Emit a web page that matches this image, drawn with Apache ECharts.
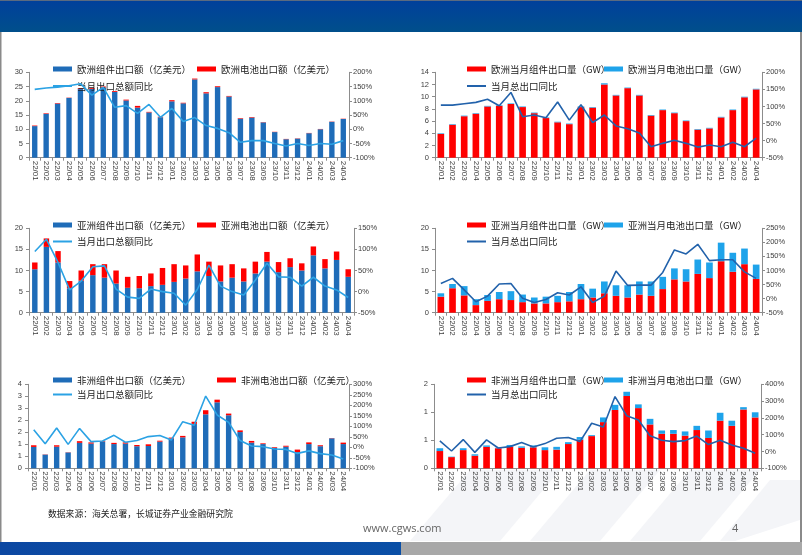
<!DOCTYPE html>
<html><head><meta charset="utf-8">
<script src="https://cdn.jsdelivr.net/npm/echarts@6/dist/echarts.min.js"></script>
<style>html,body{margin:0;padding:0;background:#fff}#c{width:802px;height:555px}</style>
</head><body><div id="c"></div>
<script>
const categories = ['22/01','22/02','22/03','22/04','22/05','22/06','22/07','22/08','22/09','22/10','22/11','22/12',
  '23/01','23/02','23/03','23/04','23/05','23/06','23/07','23/08','23/09','23/10','23/11','23/12',
  '24/01','24/02','24/03','24/04'];

// Panel 1: Europe export value (亿美元)
const euModuleValue = [11.1,15.4,19.0,21.0,24.1,24.2,24.7,23.1,20.1,17.6,15.9,14.2,19.8,19.1,27.5,22.6,24.8,21.5,13.7,14.1,12.4,9.0,6.5,6.7,8.6,10.0,12.6,13.6];
const euCellValue   = [0.2,0.2,0.2,0.1,0.3,0.3,0.3,0.3,0.3,0.6,0.2,0.2,0.4,0.2,0.3,0.4,0.3,0.2,0.2,0.2,0.1,0.1,0.1,0.1,0.1,0.1,0.1,0.1];
const euValueYoY    = [140,145,148,153,160,120,147,77,83,56,87,42,73,27,41,13,3,-12,-46,-40,-40,-50,-59,-50,-57,-50,-53,-40];

// Panel 2: Europe export volume (GW)
const euModuleGW = [3.9,5.4,6.8,7.2,8.4,8.5,8.8,8.3,7.3,6.5,5.8,5.5,8.3,8.2,12.0,10.2,11.4,10.2,6.9,7.8,7.3,6.0,4.6,4.8,6.6,7.8,9.9,11.2];
const euCellGW   = [0.1,0.1,0.1,0.1,0.1,0.1,0.1,0.1,0.1,0.1,0.1,0.1,0.1,0.1,0.2,0.1,0.1,0.1,0.1,0.1,0.1,0.1,0.1,0.1,0.1,0.1,0.1,0.1];
const euGWYoY    = [104,104,108,112,121,102,141,70,75,67,113,60,105,53,75,43,35,22,-18,-8,1,-8,-19,-13,-18,-5,-18,7];

// Panel 3: Asia export value (亿美元)
const asModuleValue = [10.3,15.6,11.9,5.8,7.6,8.9,8.3,6.9,5.9,5.8,6.3,6.6,7.3,8.1,9.8,8.7,7.4,8.3,7.4,9.3,12.1,9.6,10.8,10.0,13.6,10.5,12.5,8.5];
const asCellValue   = [1.6,2.0,2.7,1.7,2.4,2.6,3.2,3.1,2.6,2.9,3.0,4.0,4.2,3.1,4.0,3.4,3.8,3.2,3.1,2.8,2.3,2.4,2.1,1.7,2.1,2.2,2.0,1.8];
const asValueYoY    = [95,124,69,4,25,59,61,6,-13,-16,6,0,-4,-32,5,63,13,0,-8,27,67,35,34,13,34,13,4,-14];

// Panel 4: Asia export volume (GW)
const asModuleGW = [3.8,5.8,4.1,1.8,2.8,3.2,3.0,2.5,2.2,2.2,2.5,2.7,3.2,3.6,4.6,4.0,3.6,4.3,4.0,5.6,7.9,7.4,9.2,8.2,12.2,9.7,11.5,8.0];
const asCellGW   = [0.8,1.0,2.2,1.4,1.4,1.7,2.1,1.8,1.4,1.6,1.5,2.2,3.6,2.1,2.8,2.5,2.9,3.1,3.4,2.9,2.6,2.9,3.4,3.7,4.4,4.5,3.7,3.4];
const asGWYoY    = [54,72,31,-11,9,52,54,1,-14,-3,21,13,42,-14,9,98,47,48,48,93,173,159,193,135,138,138,95,72];

// Panel 5: Africa export value (亿美元)
const afModuleValue = [0.89,0.57,0.90,0.66,1.06,1.03,1.12,1.01,1.03,0.92,0.93,1.11,1.24,1.29,1.85,2.25,2.75,2.21,1.51,1.07,1.01,0.85,0.90,0.67,1.01,0.92,1.25,1.01];
const afCellValue   = [0.07,0.01,0.06,0.01,0.07,0.05,0.02,0.05,0.05,0.05,0.07,0.04,0.04,0.06,0.09,0.17,0.11,0.07,0.07,0.07,0.03,0.03,0.04,0.11,0.07,0.04,0.01,0.06];
const afValueYoY    = [84,17,92,14,90,27,30,57,24,32,51,56,35,122,105,244,154,119,32,6,3,-8,-10,-29,-17,-30,-37,-56];

// Panel 6: Africa export volume (GW)
const afModuleGW = [0.37,0.24,0.39,0.27,0.46,0.43,0.46,0.44,0.45,0.39,0.40,0.52,0.61,0.69,0.99,1.25,1.55,1.29,0.94,0.74,0.74,0.70,0.82,0.65,1.02,0.91,1.26,1.09];
const afCellGW   = [0.06,0.01,0.04,0.03,0.03,0.01,0.04,0.03,0.04,0.06,0.06,0.04,0.06,0.02,0.10,0.11,0.09,0.08,0.12,0.07,0.08,0.09,0.09,0.16,0.17,0.11,0.05,0.11];
const afGWYoY    = [63,3,71,-5,69,21,29,53,27,47,79,83,59,168,146,327,213,188,94,67,59,65,92,41,67,39,19,-11];

const BLUE_DARK = '#1f6cb8', RED = '#ff0000', BLUE_LIGHT = '#1ea3ea', LINE_LIGHT = '#2ba2e4', LINE_DARK = '#2262ab';
const roundFmt = v => String(Math.round(v + 1e-9));

const panels = [
  {grid:{left:29,top:72.3,width:320,height:85.4}, lmax:30, lint:5, rmin:-100, rmax:200, rint:50,
   names:['欧洲组件出口额（亿美元）','欧洲电池出口额（亿美元）','当月出口总额同比'],
   data:[euModuleValue, euCellValue, euValueYoY], colors:[BLUE_DARK, RED, LINE_LIGHT], bw:'47%',
   leg:{x1:53, x2:197, y1:69, y2:86}},
  {grid:{left:435,top:72.3,width:327,height:85.4}, lmax:14, lint:2, rmin:-50, rmax:200, rint:50,
   names:['欧洲当月组件出口量（GW）','欧洲当月电池出口量（GW）','当月总出口同比'],
   data:[euModuleGW, euCellGW, euGWYoY], colors:[RED, BLUE_LIGHT, LINE_DARK], bw:'57%',
   leg:{x1:467, x2:604, y1:69, y2:86}},
  {grid:{left:29,top:228.3,width:325,height:84.4}, lmax:20, lint:5, rmin:-50, rmax:150, rint:50,
   names:['亚洲组件出口额（亿美元）','亚洲电池出口额（亿美元）','当月出口总额同比 '],
   data:[asModuleValue, asCellValue, asValueYoY], colors:[BLUE_DARK, RED, LINE_LIGHT], bw:'47%',
   leg:{x1:53, x2:197, y1:225, y2:241.5}},
  {grid:{left:435,top:228.3,width:327,height:84.4}, lmax:20, lint:5, rmin:-50, rmax:250, rint:50,
   names:['亚洲当月组件出口量（GW）','亚洲当月电池出口量（GW）','当月总出口同比 '],
   data:[asModuleGW, asCellGW, asGWYoY], colors:[RED, BLUE_LIGHT, LINE_DARK], bw:'57%',
   leg:{x1:467, x2:604, y1:225, y2:241.5}},
  {grid:{left:28,top:384.3,width:321,height:84}, lmax:3.5, lint:0.5, rmin:-100, rmax:300, rint:50, lfmt:roundFmt,
   names:['非洲组件出口额（亿美元）','非洲电池出口额（亿美元）','当月出口总额同比  '],
   data:[afModuleValue, afCellValue, afValueYoY], colors:[BLUE_DARK, RED, LINE_LIGHT], bw:'47%',
   leg:{x1:53, x2:217, y1:380, y2:394.5}},
  {grid:{left:434,top:384.3,width:327,height:84}, lmax:1.8, lint:0.6, rmin:-100, rmax:400, rint:100, lfmt:roundFmt,
   names:['非洲当月组件出口量（GW）','非洲当月电池出口量（GW）','当月总出口同比  '],
   data:[afModuleGW, afCellGW, afGWYoY], colors:[RED, BLUE_LIGHT, LINE_DARK], bw:'57%',
   leg:{x1:467, x2:604, y1:380, y2:394.5}}
];

const AX = '#8c8c8c', LBL = '#404040';
const grid=[], xAxis=[], yAxis=[], series=[], legend=[];
const legText = {fontFamily:'Noto Sans CJK SC', fontSize:9.5, color:'#1a1a1a', lineHeight:12};

panels.forEach((p, i) => {
  grid.push(Object.assign({containLabel:false}, p.grid));
  xAxis.push({type:'category', gridIndex:i, data:categories,
    axisLine:{onZero:false, lineStyle:{color:AX, width:1}},
    axisTick:{show:true, length:3, lineStyle:{color:AX}},
    axisLabel:{rotate:-90, interval:0, fontSize:8, color:LBL, fontFamily:'Liberation Sans', margin:3}});
  yAxis.push({type:'value', gridIndex:i, min:0, max:p.lmax, interval:p.lint, position:'left',
    splitLine:{show:false},
    axisLine:{show:true, lineStyle:{color:AX}}, axisTick:{show:true, length:3, lineStyle:{color:AX}},
    axisLabel:{fontSize:7.5, color:LBL, fontFamily:'Liberation Sans', margin:6, showMaxLabel:true, showMinLabel:true,
      formatter:p.lfmt || (v=>String(v))}});
  yAxis.push({type:'value', gridIndex:i, min:p.rmin, max:p.rmax, interval:p.rint, position:'right',
    splitLine:{show:false},
    axisLine:{show:true, lineStyle:{color:AX}}, axisTick:{show:true, length:3, inside:false, lineStyle:{color:AX}},
    axisLabel:{fontSize:7.5, color:LBL, fontFamily:'Liberation Sans', margin:4, showMaxLabel:true, formatter:'{value}%'}});
  series.push({name:p.names[0], type:'bar', xAxisIndex:i, yAxisIndex:2*i, stack:'s'+i, data:p.data[0],
    barWidth:p.bw, itemStyle:{color:p.colors[0]}, color:p.colors[0]});
  series.push({name:p.names[1], type:'bar', xAxisIndex:i, yAxisIndex:2*i, stack:'s'+i, data:p.data[1],
    barWidth:p.bw, itemStyle:{color:p.colors[1]}, color:p.colors[1]});
  series.push({name:p.names[2], type:'line', xAxisIndex:i, yAxisIndex:2*i+1, data:p.data[2],
    symbol:'none', lineStyle:{color:p.colors[2], width:1.6}, itemStyle:{color:p.colors[2]}, color:p.colors[2], z:5});
  legend.push({data:[p.names[0]], left:p.leg.x1, top:p.leg.y1-6, padding:0, itemWidth:19, itemHeight:5, icon:'rect',
    textStyle:legText, selectedMode:false});
  legend.push({data:[p.names[1]], left:p.leg.x2, top:p.leg.y1-6, padding:0, itemWidth:19, itemHeight:5, icon:'rect',
    textStyle:legText, selectedMode:false});
  legend.push({data:[p.names[2]], left:p.leg.x1, top:p.leg.y2-6, padding:0, itemWidth:19, itemHeight:2, icon:'rect',
    textStyle:legText, selectedMode:false, formatter: n => n.trim()});
});

const graphic = [
  {type:'polygon', z:-10, shape:{points:[[470,470],[560,470],[500,541],[410,541]]}, style:{fill:'#f4f5f8'}},
  {type:'polygon', z:-10, shape:{points:[[590,470],[660,470],[600,541],[530,541]]}, style:{fill:'#f4f5f8'}},
  {type:'polygon', z:-10, shape:{points:[[690,470],[760,470],[700,541],[630,541]]}, style:{fill:'#f4f5f8'}},
  {type:'polygon', z:-10, shape:{points:[[770,480],[800,480],[800,520],[735,541],[720,541]]}, style:{fill:'#f4f5f8'}},
  {type:'rect', shape:{x:0,y:0,width:802,height:32},
   style:{fill:{type:'linear',x:0,y:0,x2:0,y2:1,colorStops:[{offset:0,color:'#003f9c'},{offset:1,color:'#004f8b'}]}}},
  {type:'rect', shape:{x:0,y:0,width:802,height:1}, style:{fill:'#5a6a80'}},
  {type:'rect', shape:{x:0,y:32,width:1.5,height:510}, style:{fill:'#8a8a8a'}},
  {type:'rect', shape:{x:800,y:32,width:2,height:510}, style:{fill:'#8a8a8a'}},
  {type:'rect', shape:{x:0,y:542,width:401,height:13},
   style:{fill:{type:'linear',x:0,y:0,x2:1,y2:0,colorStops:[{offset:0,color:'#0c48a2'},{offset:1,color:'#0a4fa6'}]}}},
  {type:'rect', shape:{x:401,y:542,width:401,height:13}, style:{fill:'#a8a8a8'}},
  {type:'text', left:48, top:509, style:{text:'数据来源：海关总署，长城证券产业金融研究院', fontFamily:'Noto Sans CJK SC', fontSize:8.8, fill:'#222'}},
  {type:'text', left:363, top:523, style:{text:'www.cgws.com', fontFamily:'Open Sans', fontSize:11, fill:'#666'}},
  {type:'text', left:732, top:523, style:{text:'4', fontFamily:'Open Sans', fontSize:11, fill:'#666'}}
];

const chart = echarts.init(document.getElementById('c'), null, {renderer:'canvas'});
chart.setOption({
  backgroundColor:'#ffffff',
  animation:false,
  grid, xAxis, yAxis, series, legend, graphic
});
</script>
</body></html>
